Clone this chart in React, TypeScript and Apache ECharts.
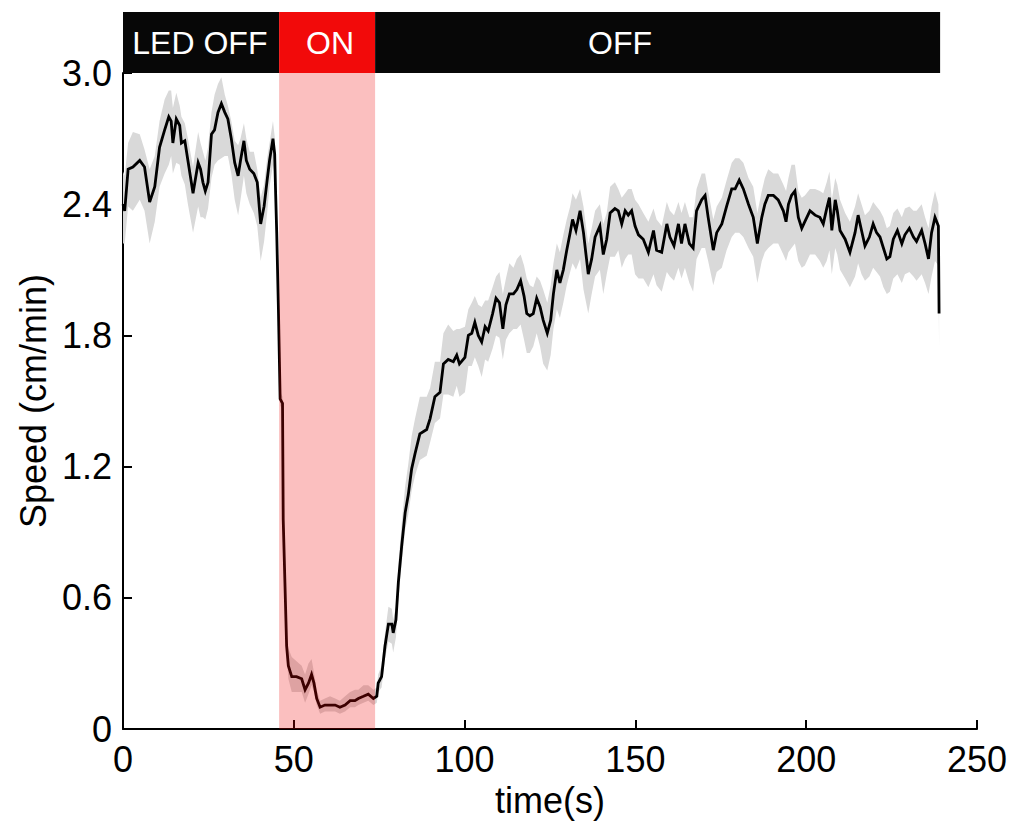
import React, { useEffect, useRef } from "react";
import * as echarts from "echarts";

// Rows: [time (s), mean speed (cm/min), band above, band below]
const preStim: number[][] = [
  [0.0, 2.40, 0.15, 0.18], [0.5, 2.37, 0.16, 0.15], [1.5, 2.56, 0.12, 0.17], [2.9, 2.57, 0.16, 0.20],
  [4.9, 2.60, 0.12, 0.18], [6.3, 2.57, 0.08, 0.20], [7.8, 2.41, 0.15, 0.19], [9.3, 2.48, 0.14, 0.16],
  [10.7, 2.66, 0.12, 0.18], [12.2, 2.74, 0.14, 0.20], [13.4, 2.80, 0.12, 0.22], [14.1, 2.78, 0.14, 0.16],
  [14.6, 2.68, 0.16, 0.14], [15.6, 2.79, 0.12, 0.20], [16.6, 2.76, 0.09, 0.18], [17.1, 2.68, 0.12, 0.15],
  [18.1, 2.69, 0.08, 0.20], [19.0, 2.60, 0.10, 0.20], [20.5, 2.45, 0.12, 0.18], [22.0, 2.59, 0.14, 0.20],
  [22.7, 2.56, 0.12, 0.22], [23.4, 2.50, 0.14, 0.16], [24.1, 2.46, 0.14, 0.13], [24.9, 2.50, 0.16, 0.12],
  [25.9, 2.72, 0.10, 0.20], [26.8, 2.74, 0.16, 0.16], [27.8, 2.82, 0.13, 0.22], [28.8, 2.86, 0.12, 0.25],
  [29.8, 2.82, 0.08, 0.20], [30.7, 2.79, 0.06, 0.17], [31.7, 2.70, 0.08, 0.16], [32.7, 2.59, 0.10, 0.17],
  [33.7, 2.53, 0.14, 0.18], [34.4, 2.60, 0.10, 0.18], [35.4, 2.69, 0.08, 0.16], [36.1, 2.60, 0.10, 0.15],
  [37.1, 2.56, 0.08, 0.16], [38.3, 2.54, 0.10, 0.18], [39.3, 2.50, 0.06, 0.20], [40.3, 2.31, 0.12, 0.17],
  [41.3, 2.39, 0.10, 0.16], [42.2, 2.51, 0.10, 0.15], [42.9, 2.60, 0.08, 0.12], [43.9, 2.70, 0.08, 0.12],
  [44.4, 2.63, 0.08, 0.10], [44.7, 2.44, 0.06, 0.10],
];

const stimPeriod: number[][] = [
  [45.0, 2.27, 0.05, 0.05], [45.5, 1.92, 0.04, 0.04], [46.0, 1.51, 0.03, 0.03], [46.7, 1.49, 0.03, 0.03],
  [46.9, 0.96, 0.03, 0.03], [47.4, 0.67, 0.03, 0.03], [47.9, 0.38, 0.05, 0.04], [48.4, 0.29, 0.08, 0.06],
  [49.4, 0.24, 0.09, 0.07], [50.8, 0.24, 0.07, 0.07], [52.3, 0.23, 0.06, 0.06], [53.3, 0.18, 0.07, 0.06],
  [54.3, 0.21, 0.09, 0.05], [55.2, 0.25, 0.07, 0.05], [55.9, 0.21, 0.05, 0.04], [56.7, 0.14, 0.04, 0.03],
  [57.7, 0.10, 0.03, 0.03], [59.1, 0.11, 0.03, 0.03], [60.6, 0.11, 0.04, 0.03], [62.1, 0.11, 0.03, 0.03],
  [63.5, 0.10, 0.03, 0.03], [65.0, 0.11, 0.04, 0.03], [66.5, 0.13, 0.04, 0.03], [67.9, 0.13, 0.05, 0.03],
  [68.9, 0.14, 0.04, 0.03], [70.4, 0.15, 0.05, 0.03], [71.8, 0.16, 0.04, 0.03], [73.3, 0.14, 0.04, 0.03],
  [74.3, 0.15, 0.04, 0.03],
];

const recovery: number[][] = [
  [74.7, 0.21, 0.04, 0.04], [75.7, 0.24, 0.05, 0.05], [76.7, 0.38, 0.06, 0.06], [77.7, 0.48, 0.08, 0.08],
  [78.7, 0.48, 0.07, 0.09], [79.1, 0.44, 0.06, 0.09], [79.9, 0.50, 0.06, 0.08], [80.6, 0.67, 0.08, 0.08],
  [81.6, 0.84, 0.10, 0.08], [82.6, 0.99, 0.12, 0.08], [83.5, 1.07, 0.14, 0.09], [84.5, 1.19, 0.15, 0.10],
  [85.5, 1.26, 0.16, 0.10], [86.9, 1.35, 0.17, 0.12], [88.9, 1.37, 0.15, 0.12], [89.9, 1.42, 0.14, 0.11],
  [91.3, 1.52, 0.16, 0.12], [92.8, 1.54, 0.14, 0.12], [93.8, 1.67, 0.14, 0.14], [95.2, 1.69, 0.16, 0.16],
  [96.7, 1.68, 0.14, 0.16], [97.7, 1.71, 0.12, 0.14], [98.5, 1.67, 0.16, 0.15], [100.1, 1.70, 0.14, 0.16],
  [101.1, 1.80, 0.12, 0.14], [102.1, 1.81, 0.14, 0.15], [103.0, 1.86, 0.12, 0.16], [104.0, 1.80, 0.14, 0.14],
  [105.0, 1.77, 0.16, 0.16], [106.0, 1.84, 0.12, 0.15], [106.9, 1.82, 0.14, 0.14], [108.2, 1.90, 0.12, 0.16],
  [109.2, 1.97, 0.10, 0.17], [110.2, 1.95, 0.14, 0.16], [111.2, 1.83, 0.16, 0.14], [112.1, 1.94, 0.12, 0.16],
  [113.1, 1.99, 0.14, 0.18], [114.3, 1.99, 0.12, 0.16], [115.3, 2.01, 0.14, 0.18], [116.4, 2.05, 0.12, 0.20],
  [117.4, 1.98, 0.14, 0.20], [118.2, 1.90, 0.16, 0.18], [119.1, 1.89, 0.14, 0.17], [120.1, 1.90, 0.12, 0.15],
  [121.1, 1.97, 0.10, 0.16], [122.1, 1.93, 0.12, 0.18], [123.0, 1.87, 0.14, 0.20], [124.2, 1.81, 0.14, 0.17],
  [125.2, 1.87, 0.16, 0.16],
];

const plateau: number[][] = [
  [126.0, 1.99, 0.14, 0.16], [127.0, 2.10, 0.12, 0.18], [127.9, 2.04, 0.14, 0.16], [128.9, 2.10, 0.16, 0.15],
  [129.9, 2.19, 0.14, 0.16], [130.9, 2.27, 0.12, 0.18], [131.6, 2.33, 0.12, 0.20], [132.6, 2.28, 0.14, 0.18],
  [133.8, 2.37, 0.10, 0.22], [134.8, 2.27, 0.12, 0.26], [136.2, 2.08, 0.14, 0.18], [137.2, 2.15, 0.14, 0.16],
  [138.2, 2.25, 0.12, 0.18], [139.6, 2.30, 0.10, 0.20], [140.6, 2.17, 0.14, 0.18], [141.6, 2.24, 0.12, 0.16],
  [142.6, 2.36, 0.12, 0.20], [144.0, 2.38, 0.12, 0.22], [145.0, 2.37, 0.10, 0.18], [146.0, 2.31, 0.12, 0.20],
  [147.0, 2.37, 0.08, 0.22], [147.9, 2.35, 0.12, 0.18], [148.9, 2.37, 0.10, 0.20], [149.9, 2.30, 0.12, 0.22],
  [150.9, 2.26, 0.14, 0.20], [152.3, 2.24, 0.12, 0.18], [153.8, 2.18, 0.14, 0.16], [155.3, 2.28, 0.10, 0.20],
  [156.2, 2.19, 0.14, 0.16], [157.7, 2.18, 0.12, 0.18], [159.2, 2.31, 0.10, 0.22], [160.1, 2.25, 0.12, 0.18],
  [161.3, 2.21, 0.14, 0.16], [162.6, 2.31, 0.10, 0.20], [163.5, 2.22, 0.14, 0.16], [164.5, 2.31, 0.10, 0.20],
  [165.8, 2.22, 0.12, 0.18], [166.9, 2.20, 0.14, 0.20], [167.9, 2.37, 0.10, 0.22], [169.4, 2.42, 0.12, 0.22],
  [170.4, 2.44, 0.10, 0.24], [171.3, 2.34, 0.12, 0.20], [172.8, 2.19, 0.14, 0.16], [173.8, 2.27, 0.12, 0.18],
  [175.3, 2.31, 0.12, 0.20], [176.7, 2.39, 0.12, 0.20], [178.2, 2.47, 0.12, 0.22], [179.2, 2.47, 0.14, 0.20],
  [180.4, 2.51, 0.10, 0.24], [181.6, 2.47, 0.12, 0.22], [183.1, 2.40, 0.12, 0.20], [184.5, 2.34, 0.14, 0.18],
  [185.7, 2.22, 0.14, 0.18], [187.0, 2.34, 0.12, 0.20], [187.9, 2.40, 0.12, 0.22], [188.9, 2.44, 0.12, 0.24],
  [190.4, 2.44, 0.10, 0.22], [191.8, 2.42, 0.12, 0.20], [193.3, 2.37, 0.12, 0.20], [194.1, 2.32, 0.14, 0.18],
  [194.8, 2.40, 0.12, 0.22], [195.7, 2.44, 0.14, 0.24], [196.7, 2.46, 0.12, 0.24], [197.7, 2.34, 0.12, 0.20],
  [198.7, 2.29, 0.14, 0.18], [199.6, 2.32, 0.12, 0.20], [201.1, 2.37, 0.10, 0.20], [202.6, 2.35, 0.12, 0.18],
  [204.0, 2.34, 0.12, 0.20], [205.0, 2.31, 0.14, 0.20], [206.0, 2.38, 0.12, 0.24], [206.8, 2.43, 0.12, 0.24],
  [207.5, 2.28, 0.14, 0.20], [208.5, 2.42, 0.10, 0.22], [209.1, 2.37, 0.12, 0.20], [209.9, 2.28, 0.14, 0.18],
  [211.4, 2.24, 0.12, 0.18], [212.8, 2.18, 0.14, 0.16], [214.3, 2.27, 0.12, 0.20], [215.2, 2.35, 0.10, 0.22],
  [216.2, 2.28, 0.12, 0.20], [217.2, 2.21, 0.14, 0.16], [218.5, 2.25, 0.12, 0.18], [219.6, 2.31, 0.10, 0.20],
  [220.6, 2.27, 0.12, 0.18], [221.6, 2.25, 0.12, 0.18], [222.6, 2.20, 0.14, 0.18], [223.6, 2.15, 0.14, 0.16],
  [224.5, 2.16, 0.14, 0.16], [225.5, 2.24, 0.12, 0.18], [226.7, 2.28, 0.10, 0.20], [228.0, 2.22, 0.12, 0.18],
  [228.9, 2.26, 0.12, 0.18], [230.2, 2.29, 0.10, 0.20], [231.4, 2.25, 0.12, 0.18], [232.3, 2.23, 0.14, 0.18],
  [233.8, 2.28, 0.12, 0.20], [234.8, 2.22, 0.12, 0.18], [235.8, 2.15, 0.14, 0.16], [236.7, 2.27, 0.12, 0.20],
  [237.7, 2.34, 0.12, 0.20], [238.7, 2.30, 0.10, 0.18], [238.9, 1.90, 0.02, 0.15],
];

// Top bar: [start s, end s, label centre s]
const phaseBounds: number[][] = [
  [0, 45.7, 22.5],
  [45.7, 73.8, 60.6],
  [73.8, 239.2, 145.5],
];
const phaseLabels = ["LED OFF", "ON", "OFF"];
const phaseColors = ["#070707", "#f20a0a", "#070707"];
const stimWindow = [45.7, 73.8];

const xTicks = { min: 0, max: 250, interval: 50 };
const yTicks = { min: 0, max: 3.0, interval: 0.6 };

const FONT = '"Liberation Sans", Arial, Helvetica, sans-serif';

export default function App() {
  const ref = useRef<HTMLDivElement>(null);

  useEffect(() => {
    if (!ref.current) return;
    const chart = echarts.init(ref.current, undefined, { renderer: "svg" });

    const rows = [...preStim, ...stimPeriod, ...recovery, ...plateau];
    const meanData = rows.map((r) => [r[0], r[1]]);
    const upper = rows.map((r) => [r[0], r[1] + r[2]]);
    const lower = rows.map((r) => [r[0], r[1] - r[3]]).reverse();
    const yTop = yTicks.max;

    const option: any = {
      animation: false,
      backgroundColor: "#ffffff",
      grid: { left: 123, right: 38, top: 73, bottom: 93, containLabel: false },
      xAxis: {
        type: "value",
        min: xTicks.min,
        max: xTicks.max,
        interval: xTicks.interval,
        name: "time(s)",
        nameLocation: "middle",
        nameGap: 52,
        nameTextStyle: { fontFamily: FONT, fontSize: 36, color: "#000" },
        axisLine: { show: true, lineStyle: { color: "#000", width: 2 } },
        axisTick: { show: true, inside: true, length: 9, lineStyle: { color: "#000", width: 2 } },
        axisLabel: { fontFamily: FONT, fontSize: 36, color: "#000", margin: 12 },
        splitLine: { show: false },
      },
      yAxis: {
        type: "value",
        min: yTicks.min,
        max: yTicks.max,
        interval: yTicks.interval,
        name: "Speed (cm/min)",
        nameLocation: "middle",
        nameGap: 72,
        nameRotate: 90,
        nameTextStyle: { fontFamily: FONT, fontSize: 36, color: "#000" },
        axisLine: { show: true, lineStyle: { color: "#000", width: 2 } },
        axisTick: { show: true, inside: true, length: 9, lineStyle: { color: "#000", width: 2 } },
        axisLabel: {
          fontFamily: FONT,
          fontSize: 36,
          color: "#000",
          margin: 11,
          formatter: (v: number) => (Math.abs(v) < 1e-9 ? "0" : v.toFixed(1)),
        },
        splitLine: { show: false },
      },
      series: [
        {
          type: "custom",
          name: "band",
          z: 1,
          silent: true,
          data: [[0, 0]],
          renderItem: (_params: any, api: any) => {
            const pts = upper.concat(lower).map((p) => api.coord(p));
            return {
              type: "polygon",
              shape: { points: pts },
              style: { fill: "#d9d9d9", stroke: "none" },
            };
          },
        },
        {
          type: "line",
          name: "mean",
          z: 3,
          data: meanData,
          showSymbol: false,
          symbol: "none",
          lineStyle: { color: "#000", width: 2.8, join: "miter" },
          silent: true,
        },
        {
          type: "custom",
          name: "stim",
          z: 10,
          silent: true,
          data: [[stimWindow[0], stimWindow[1]]],
          renderItem: (_params: any, api: any) => {
            const a = api.coord([api.value(0), yTicks.max]);
            const b = api.coord([api.value(1), yTicks.min]);
            return {
              type: "rect",
              shape: { x: a[0], y: a[1], width: b[0] - a[0], height: b[1] - a[1] },
              style: { fill: "rgba(240,0,0,0.25)" },
            };
          },
        },
        {
          type: "custom",
          name: "phases",
          z: 12,
          silent: true,
          clip: false,
          data: phaseBounds,
          renderItem: (params: any, api: any) => {
            const i = params.dataIndex;
            const a = api.coord([api.value(0), yTop]);
            const b = api.coord([api.value(1), yTop]);
            const c = api.coord([api.value(2), yTop]);
            const h = 61;
            return {
              type: "group",
              children: [
                {
                  type: "rect",
                  shape: { x: a[0], y: a[1] - h, width: b[0] - a[0], height: h },
                  style: { fill: phaseColors[i] },
                },
                {
                  type: "text",
                  x: c[0],
                  y: a[1] - h / 2,
                  style: {
                    text: phaseLabels[i],
                    fill: "#ffffff",
                    font: `32px ${FONT}`,
                    align: "center",
                    verticalAlign: "middle",
                  },
                },
              ],
            };
          },
        },
      ],
    };

    chart.setOption(option);
    return () => chart.dispose();
  }, []);

  return (
    <div
      ref={ref}
      style={{ position: "fixed", left: 0, top: 0, width: 1015, height: 823, background: "#fff" }}
    />
  );
}
